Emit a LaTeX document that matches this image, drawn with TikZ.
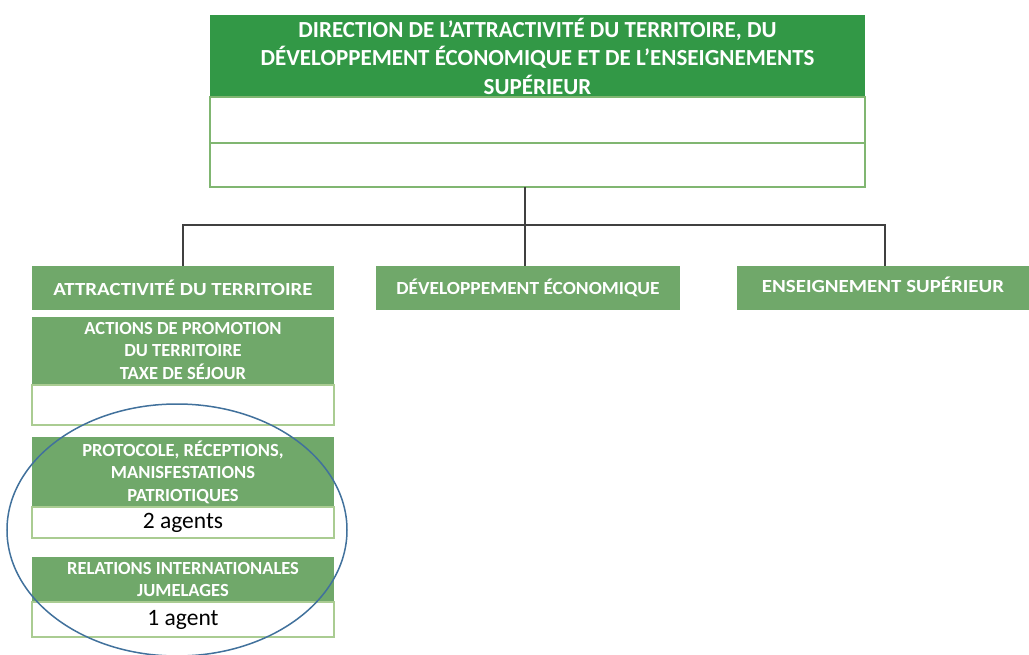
\documentclass[tikz,border=0pt]{standalone}
\usepackage{fontspec}
\setmainfont{Carlito}

\definecolor{dirgreen}{RGB}{50,152,70}
\definecolor{unitgreen}{RGB}{112,168,106}
\definecolor{rowgreen}{RGB}{128,182,113}
\definecolor{paleline}{RGB}{170,204,146}
\definecolor{ringblue}{RGB}{65,113,156}

\tikzset{
	box/.style={anchor=north west, inner sep=0pt, outer sep=0pt, align=center},
	greenbox/.style={box, fill=unitgreen, text=white, font=\bfseries\fontsize{18.5}{22.5}\selectfont},
	unitbox/.style={greenbox, minimum height=44, font=\bfseries\fontsize{18.5}{22.5}\selectfont\addfontfeature{FakeStretch=#1}},
	emptyrow/.style={box, fill=white, draw=paleline, line width=2.5pt, font=\fontsize{23.5}{27}\selectfont},
	link/.style={draw=black!75, line width=1.2pt}
}

\begin{document}
\begin{tikzpicture}[x=1pt, y=-1pt]
	\useasboundingbox (0,0) rectangle (1029,655);
	%Direction
		\node[greenbox, fill=dirgreen, minimum width=655, minimum height=82, font=\bfseries\fontsize{23}{28.5}\selectfont] (dir) at (210,15) {DIRECTION DE L’ATTRACTIVITÉ DU TERRITOIRE, DU\\DÉVELOPPEMENT ÉCONOMIQUE ET DE L’ENSEIGNEMENTS\\SUPÉRIEUR};
		\node[emptyrow, draw=rowgreen, minimum width=655, minimum height=46] (dirrow1) at (210,97) {};
		\node[emptyrow, draw=rowgreen, minimum width=655, minimum height=44] (dirrow2) at (210,143) {};
	%Units
		\node[unitbox=1.13, minimum width=302] (attr) at (32,266) {ATTRACTIVITÉ DU TERRITOIRE};
		\node[unitbox=1.05, minimum width=304] (dev) at (376,266) {DÉVELOPPEMENT ÉCONOMIQUE};
		\node[unitbox=1.13, minimum width=292, text depth=6pt] (ens) at (737,266) {ENSEIGNEMENT SUPÉRIEUR};
	%Links
		\coordinate (bus) at (525,225);
		\draw[link] (attr.north) |- (bus) -| ([xshift=2pt]ens.north);
		\draw[link] (dirrow2.south -| bus) -- (dev.north -| bus);
	%Services of the left unit
		\node[greenbox, minimum width=302, minimum height=68] (promo) at (32,317) {ACTIONS DE PROMOTION\\DU TERRITOIRE\\TAXE DE SÉJOUR};
		\node[emptyrow, minimum width=302, minimum height=40] (promorow) at (32,385) {};
		\node[greenbox, minimum width=302, minimum height=70] (proto) at (32,437) {PROTOCOLE, RÉCEPTIONS,\\MANISFESTATIONS\\PATRIOTIQUES};
		\node[emptyrow, minimum width=302, minimum height=31] (protorow) at (32,507) {2 agents};
		\node[greenbox, minimum width=302, minimum height=45] (rel) at (32,557) {RELATIONS INTERNATIONALES\\JUMELAGES};
		\node[emptyrow, minimum width=302, minimum height=35] (relrow) at (32,602) {1 agent};
	%Ring
		\draw[ringblue, line width=1.5pt] (177,530) ellipse [x radius=170, y radius=126];
\end{tikzpicture}
\end{document}
